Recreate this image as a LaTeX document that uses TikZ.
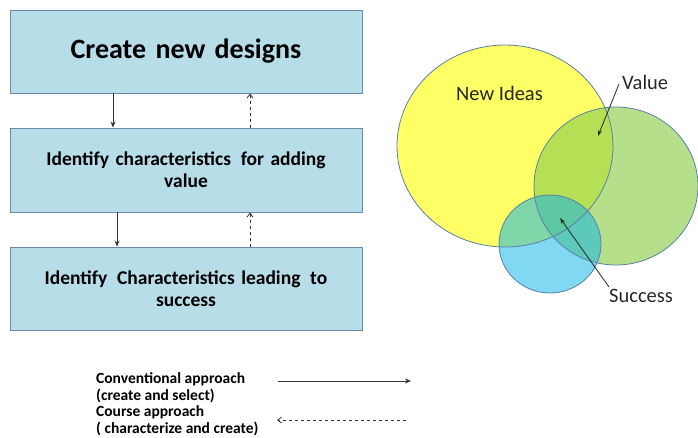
\documentclass[tikz,border=0pt]{standalone}
\usepackage{fontspec}
\setmainfont{Carlito}
\usetikzlibrary{arrows.meta}
\definecolor{boxfill}{HTML}{B7DDE8}
\definecolor{boxline}{HTML}{6A8AAA}
\definecolor{ideafill}{HTML}{FFFF66}
\definecolor{valuefill}{RGB}{142,206,76}
\definecolor{successfill}{RGB}{15,181,230}
\definecolor{vennline}{HTML}{5A7FA8}
\tikzset{
  stepbox/.style={draw=boxline, fill=boxfill, line width=0.9pt, minimum width=352pt,
    align=center, text width=340pt, inner sep=0pt},
  fwd/.style={-{Stealth[length=6pt,width=5pt]}, line width=0.9pt, black!80},
  back/.style={-{Straight Barb[length=4pt,width=6pt]}, dashed, line width=0.8pt, black!80},
  venn/.style={draw=vennline, line width=0.8pt},
  vennlabel/.style={font=\fontsize{20.5}{22}\selectfont, text=black!85, inner sep=0pt},
  pointer/.style={-{Stealth[length=6pt,width=4pt]}, line width=0.8pt, black!85},
  legend/.style={anchor=base west, font=\bfseries\fontsize{15.5}{16}\selectfont, inner sep=0pt}
}
\begin{document}
\begin{tikzpicture}[x=1pt,y=-1pt]
\useasboundingbox (0,0) rectangle (698,437);

% process boxes
\node[stepbox, minimum height=83pt, font=\bfseries\fontsize{28}{30}\selectfont] (create) at (186,51.5) {Create new designs};
\node[stepbox, minimum height=84pt, font=\bfseries\fontsize{19.5}{22}\selectfont] (addvalue) at (186,170) {Identify characteristics\hspace{0.5em}for adding\\value};
\node[stepbox, minimum height=83pt, font=\bfseries\fontsize{19.5}{22}\selectfont] (lead) at (186,288.5) {Identify\hspace{0.5em}Characteristics leading\hspace{0.5em}to\\success};

% forward (solid) and backward (dashed) links
\draw[fwd] (create.south -| 113,0) -- (addvalue.north -| 113,0);
\draw[fwd] (addvalue.south -| 117,0) -- (lead.north -| 117,0);
\draw[back] (addvalue.north -| 250,0) -- (create.south -| 250,0);
\draw[back] (lead.north -| 250,0) -- (addvalue.south -| 250,0);

% Venn diagram
\fill[ideafill] (505,146) ellipse [x radius=108, y radius=101];
\fill[valuefill, fill opacity=0.65] (616,186) ellipse [x radius=82, y radius=79];
\fill[successfill, fill opacity=0.53] (550,244) ellipse [x radius=51, y radius=49];
\draw[venn] (505,146) ellipse [x radius=108, y radius=101];
\draw[venn] (616,186) ellipse [x radius=82, y radius=79];
\draw[venn] (550,244) ellipse [x radius=51, y radius=49];

\node[vennlabel, anchor=base west] (ideas) at (456,100) {New Ideas};
\node[vennlabel, anchor=base west] (value) at (622,89) {Value};
\node[vennlabel, anchor=base west] (success) at (609,302) {Success};
\coordinate (valuept) at (598,136);
\coordinate (successpt) at (560,218);
\draw[pointer] (619,84) -- (valuept);
\draw[pointer] (609,287) -- (successpt);

% legend
\node[legend] (conv) at (96,383) {Conventional approach};
\node[legend] (convsub) at (96,400) {(create and select)};
\node[legend] (course) at (96,416) {Course approach};
\node[legend] (coursesub) at (96,433) {( characterize and create)};
\coordinate (convA) at (278,381);
\coordinate (convB) at (411,381);
\coordinate (courseA) at (406,420);
\coordinate (courseB) at (277,420);
\draw[fwd, line width=0.8pt] (convA) -- (convB);
\draw[back] (courseA) -- (courseB);
\end{tikzpicture}
\end{document}
